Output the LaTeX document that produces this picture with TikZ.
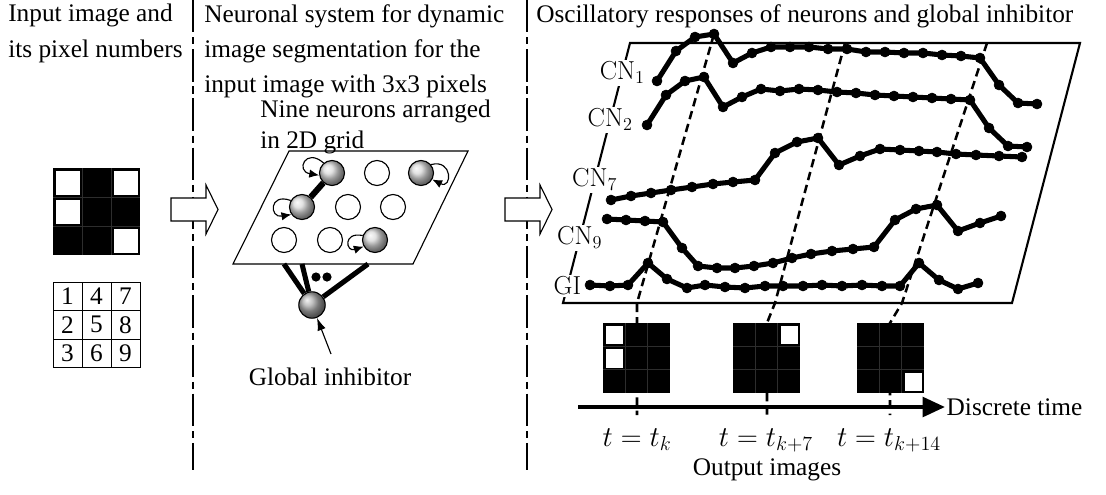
\documentclass[tikz,border=0pt]{standalone}
\usepackage{fix-cm}
\usepackage[no-math]{fontspec}
\setmainfont{Liberation Serif}
\usetikzlibrary{arrows.meta, calc}

% 3x3 binary image: corner x, corner y, cell width, cell height, white pixels
\newcommand{\binimg}[5]{%
  \fill (#1,#2) rectangle ++(3*#3,3*#4);
  \foreach \k in {1,2} {
    \draw[cellsep] (#1+\k*#3,#2) -- ++(0,3*#4);
    \draw[cellsep] (#1,#2+\k*#4) -- ++(3*#3,0);
  }
  \foreach \p in {#5} {
    \pgfmathsetmacro\cx{#1+int((\p-1)/3)*#3}
    \pgfmathsetmacro\cy{#2+mod(\p-1,3)*#4}
    \draw[whitepix] (\cx+2.5,\cy+2.5) rectangle (\cx+#3-1.5,\cy+#4-1.5);
  }
}

\begin{document}
\begin{tikzpicture}[
    x=0.025cm, y=-0.025cm,
    >={Latex[length=7pt,width=6pt]},
    txt/.style={font=\fontsize{18}{25}\selectfont, inner sep=0pt, align=left},
    divider/.style={line width=0.8pt, dash pattern=on 23pt off 3.5pt on 5pt off 3.5pt},
    hollow/.style={draw, fill=white, line width=0.8pt},
    cellsep/.style={gray!35!black, line width=0.3pt},
    whitepix/.style={draw, fill=white, line width=0.6pt},
    numcell/.style={draw, line width=0.7pt, minimum width=0.725cm, minimum height=0.7125cm,
                    inner sep=0pt, font=\fontsize{18}{20}\selectfont},
    neuron/.style={circle, draw, line width=0.8pt, minimum size=0.625cm, inner sep=0pt},
    active/.style={neuron, shading=ball, ball color=gray!30},
    inhib/.style={neuron, shading=ball, ball color=gray!65, minimum size=0.66cm},
    dot/.style={circle, fill, inner sep=0pt, minimum size=0.23cm},
    selfloop/.style={line width=0.8pt, ->},
    link/.style={line width=4.3pt},
    inhlink/.style={line width=3.6pt},
    oscplane/.style={line width=1.5pt},
    cnlbl/.style={fill=white, inner sep=1.5pt, font=\fontsize{18.5}{21}\selectfont},
    timeline/.style={line width=1.8pt, dash pattern=on 6pt off 3.5pt},
    wave/.style={line width=3.6pt, line join=round, mark=*, mark size=3.6pt,
                 mark options={solid, line width=0.3pt}},
    timeaxis/.style={line width=2.8pt, -{Triangle[length=16pt,width=14pt]}},
    tlbl/.style={font=\fontsize{20.5}{22}\selectfont, inner sep=0pt, anchor=base},
]
  \useasboundingbox (0,0) rectangle (1106,494);

  % headers and dividers
  \node[txt, anchor=north west] (hin) at (8,4) {Input image and\\its pixel numbers};
  \node[txt, anchor=north west] (hsys) at (204,4)
    {Neuronal system for dynamic\\image segmentation for the\\input image with 3x3 pixels};
  \node[txt, anchor=north west] (hosc) at (536,4)
    {Oscillatory responses of neurons and global inhibitor};
  \draw[divider] (193,0) -- (193,470);
  \draw[divider] (527,0) -- (527,470);

  \foreach \dx in {0,334}
    \draw[hollow, shift={(\dx,0)}] (171,198) -- (206,198) -- (206,185) -- (218,209.5)
      -- (206,234) -- (206,221) -- (171,221) -- cycle;

  % input image and pixel numbers
  \binimg{53}{168}{29}{29}{1,2,7,9}
  \foreach \p in {1,...,9} {
    \pgfmathtruncatemacro\col{(\p-1)/3}
    \pgfmathtruncatemacro\row{mod(\p-1,3)}
    \node[numcell] (num\p) at (67.5+29*\col, 296.25+28.5*\row) {\p};
  }

  % neuronal system
  \node[txt, anchor=north west, font=\fontsize{18}{22}\selectfont] (hgrid) at (260,100)
    {Nine neurons arranged\\in 2D grid};
  \draw[line width=0.8pt] (289,151) -- (468,151) -- (413,264) -- (233,264) -- cycle;

  \coordinate (ge1) at (284,264);
  \coordinate (ge2) at (302,264);
  \coordinate (ge3) at (368,264);
  \node[inhib] (gi) at (312,305) {};
  \foreach \e in {ge1, ge2, ge3}
    \draw[inhlink] (gi) -- (\e);
  \node[dot] (d1) at (316,277) {};
  \node[dot] (d2) at (327,277) {};

  \node[active] (n1) at (332,173) {};
  \node[neuron] (n4) at (377,173) {};
  \node[active] (n7) at (421,173) {};
  \node[active] (n2) at (302,207) {};
  \node[neuron] (n5) at (348,207) {};
  \node[neuron] (n8) at (393,207) {};
  \node[neuron] (n3) at (284,240) {};
  \node[neuron] (n6) at (330,240) {};
  \node[active] (n9) at (375,240) {};
  \draw[link] (n1) -- (n2);

  \draw[selfloop] (n1.130) .. controls +(-18,-16) and +(-24,-4) .. (n1.190);
  \draw[selfloop] (n2.150) .. controls +(-22,-8) and +(-22,4) .. (n2.215);
  \draw[selfloop] (n7.40) .. controls +(22,-6) and +(20,10) .. (n7.-30);
  \draw[selfloop] (n9.160) .. controls +(-20,-4) and +(-18,6) .. (n9.210);

  \node[txt, anchor=base] (gilbl) at (330,385) {Global inhibitor};
  \coordinate (gitail) at (331,354);
  \draw[line width=0.8pt, -{Latex[length=9pt,width=6pt]}] (gitail) -- (gi);

  % oscillatory responses
  \coordinate (ptl) at (630,43);
  \coordinate (ptr) at (1080,43);
  \coordinate (pbr) at (1012,303);
  \coordinate (pbl) at (563,303);
  \draw[oscplane] (ptl) -- (ptr) -- (pbr) -- (pbl) -- cycle;
  \foreach \nm/\f/\t in {cn1/0.115/{$\mathrm{CN}_1$}, cn2/0.296/{$\mathrm{CN}_2$},
                          cn7/0.527/{$\mathrm{CN}_7$}, cn9/0.75/{$\mathrm{CN}_9$},
                          gil/0.935/{$\mathrm{GI}$}}
    \node[cnlbl] (\nm) at ($(ptl)!\f!(pbl)$) {\t};

  \coordinate (ta) at (714,34);
  \coordinate (tb) at (845,43);
  \coordinate (tc) at (987,43);
  \coordinate (ba) at (637,303);
  \coordinate (bb) at (775,303);
  \coordinate (bc) at (902,303);
  \coordinate (ka) at (637,323);
  \coordinate (kb) at (767,323);
  \coordinate (kc) at (890,323);
  \coordinate (va) at (637,415);
  \coordinate (vb) at (767,415);
  \coordinate (vc) at (890,415);
  \draw[timeline] (ta) -- (ba) -- (ka) -- (va);
  \draw[timeline] (tb) -- (bb) -- (kb) -- (vb);
  \draw[timeline] (tc) -- (bc) -- (kc) -- (vc);

  \draw[wave] plot coordinates {(657,81) (676,51) (695,37) (714,34) (733,63) (752,53)
    (771,47) (790,47) (809,47) (828,49) (847,49) (866,52) (885,52) (904,53) (923,53)
    (942,55) (961,56) (980,58) (999,85) (1018,103) (1037,104)};
  \draw[wave] plot coordinates {(647,125) (666,95) (685,81) (704,77) (723,107) (742,97)
    (761,89) (780,91) (799,89) (818,90) (837,92) (856,93) (875,95) (894,96) (913,97)
    (932,98) (951,99) (970,100) (989,128) (1008,146) (1027,147)};
  \draw[wave] plot coordinates {(611,200) (631,196) (651,193) (671,190) (692,187) (713,184)
    (733,182) (755,180) (775,153) (797,142) (818,138) (839,165) (860,156) (880,149)
    (900,150) (919,151) (937,152) (956,154) (976,155) (999,156) (1022,157)};
  \draw[wave] plot coordinates {(607,219) (626,220) (645,221) (663,222) (682,248) (698,266)
    (717,268) (735,268) (754,266) (773,263) (792,258) (811,254) (832,251) (853,249)
    (874,247) (895,220) (916,209) (937,205) (958,231) (980,223) (1001,216)};
  \draw[wave] plot coordinates {(590,285) (610,286) (628,285) (648,263) (667,279) (687,288)
    (705,285) (725,287) (745,288) (765,286) (783,286) (803,286) (822,285) (842,286)
    (862,285) (882,286) (900,286) (919,263) (939,280) (958,289) (978,283)};

  % output images and time axis
  \binimg{603}{323}{22.3}{23.3}{1,2}
  \binimg{733}{323}{22.3}{23.3}{7}
  \binimg{857}{323}{22.3}{23.3}{9}

  \coordinate (ax0) at (578,407);
  \coordinate (ax1) at (945,407);
  \draw[timeaxis] (ax0) -- (ax1);
  \node[txt, anchor=west, inner sep=1pt] (dtime) at (ax1) {Discrete time};

  \node[tlbl] (tk0) at (637,446) {$t = t_k$};
  \node[tlbl] (tk7) at (766,446) {$t = t_{k+7}$};
  \node[tlbl] (tk14) at (889,446) {$t = t_{k+14}$};
  \node[txt, anchor=base] (outlbl) at (767,475) {Output images};
\end{tikzpicture}
\end{document}
